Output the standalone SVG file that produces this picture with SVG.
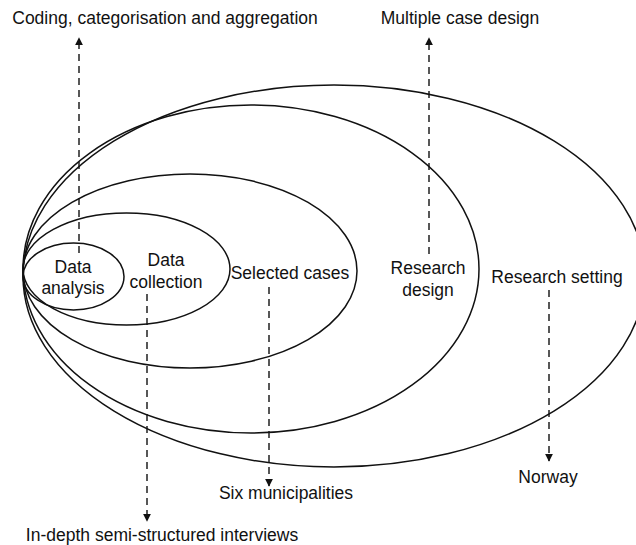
<svg xmlns="http://www.w3.org/2000/svg" width="636" height="545" viewBox="0 0 636 545">
<defs>
<style>
.ell{fill:none;stroke:#111;stroke-width:1.5}
.con{fill:none;stroke:#111;stroke-width:1.4;stroke-dasharray:7,5}
text{font-family:"Liberation Sans",Arial,sans-serif;font-size:17.5px;fill:#111}
.c{text-anchor:middle}
</style>
<marker id="ah" viewBox="0 0 10 10" refX="9" refY="5" markerWidth="8" markerHeight="8" markerUnits="userSpaceOnUse" orient="auto">
<path d="M0,0 L10,5 L0,10 Z" fill="#111"/>
</marker>
</defs>
<rect width="636" height="545" fill="#fff"/>
<g id="research-setting"><ellipse class="ell" cx="334" cy="276" rx="311" ry="191"/><text x="557" y="283" class="c">Research setting</text></g>
<g id="research-design"><ellipse class="ell" cx="251" cy="269" rx="228" ry="164"/><text x="428" y="274" class="c">Research</text><text x="428" y="296" class="c">design</text></g>
<g id="selected-cases"><ellipse class="ell" cx="190" cy="271" rx="167" ry="97"/><text x="290" y="279" class="c">Selected cases</text></g>
<g id="data-collection"><ellipse class="ell" cx="126.5" cy="269" rx="103.5" ry="56"/><text x="166" y="266" class="c">Data</text><text x="166" y="288" class="c">collection</text></g>
<g id="data-analysis"><ellipse class="ell" cx="73.5" cy="276.5" rx="50.5" ry="33.5"/><text x="73" y="273" class="c">Data</text><text x="73" y="294" class="c">analysis</text></g>
<g id="label-coding"><text x="165" y="24" class="c">Coding, categorisation and aggregation</text></g>
<g id="label-multiple"><text x="460" y="24" class="c">Multiple case design</text></g>
<g id="label-norway"><text x="548" y="483" class="c">Norway</text></g>
<g id="label-six"><text x="286" y="499" class="c">Six municipalities</text></g>
<g id="label-indepth"><text x="162" y="541" class="c">In-depth semi-structured interviews</text></g>
<g id="connectors">
<line class="con" x1="79" y1="253" x2="79" y2="38" marker-end="url(#ah)"/>
<line class="con" x1="429" y1="254" x2="429" y2="38" marker-end="url(#ah)"/>
<line class="con" x1="549" y1="290" x2="549" y2="461" marker-end="url(#ah)"/>
<line class="con" x1="269" y1="287" x2="269" y2="486" marker-end="url(#ah)"/>
<line class="con" x1="147" y1="294" x2="147" y2="521" marker-end="url(#ah)"/>
</g>
</svg>
